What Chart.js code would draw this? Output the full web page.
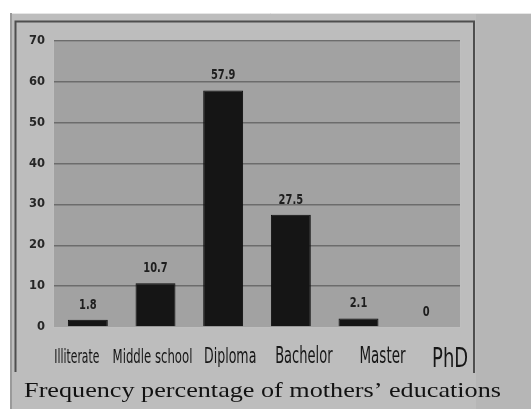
<!DOCTYPE html>
<html>
<head>
<meta charset="utf-8">
<script src="https://cdn.jsdelivr.net/npm/chart.js@4/dist/chart.umd.min.js"></script>
<style>
  html, body { margin: 0; padding: 0; background: #ffffff; }
  #wrap { width: 531px; height: 409px; }
</style>
</head>
<body>
<div id="wrap"><canvas id="c" width="531" height="409"></canvas></div>
<script>
// Education level of mothers and their frequency percentage
const categories = ['Illiterate', 'Middle school', 'Diploma', 'Bachelor', 'Master', 'PhD'];
const percentages = [1.8, 10.7, 57.9, 27.5, 2.1, 0];
const yTicks = [0, 10, 20, 30, 40, 50, 60, 70];
const titleText = 'Frequency percentage of mothers\u2019 educations';

const condensed = "'DejaVu Sans', sans-serif";

// Draw text with independent horizontal / vertical scaling around (x, y)
function scaledText(ctx, text, x, y, font, sx, sy) {
  ctx.save();
  ctx.font = font;
  ctx.translate(x, y);
  ctx.scale(sx, sy);
  ctx.fillText(text, 0, 0);
  ctx.restore();
}

// Grey panel, framed chart box and darker plot background
const backdrop = {
  id: 'backdrop',
  beforeDraw(chart) {
    const { ctx, chartArea: a } = chart;
    ctx.save();
    ctx.fillStyle = '#ffffff';
    ctx.fillRect(0, 0, chart.width, chart.height);
    ctx.fillStyle = '#bdbdbd';
    ctx.fillRect(10, 13, chart.width - 10, chart.height - 13);
    ctx.fillStyle = '#b6b6b6';
    ctx.fillRect(476, 13, chart.width - 476, chart.height - 13);
    ctx.strokeStyle = '#e6e6e6';
    ctx.lineWidth = 1;
    ctx.beginPath();
    ctx.moveTo(10, 13.5);
    ctx.lineTo(chart.width, 13.5);
    ctx.stroke();
    ctx.strokeStyle = '#9a9a9a';
    ctx.lineWidth = 2;
    ctx.beginPath();
    ctx.moveTo(11, 13);
    ctx.lineTo(11, chart.height);
    ctx.stroke();
    ctx.strokeStyle = '#4e4e4e';
    ctx.lineWidth = 2;
    ctx.beginPath();
    ctx.moveTo(15.5, 372);
    ctx.lineTo(15.5, 21.5);
    ctx.lineTo(474, 21.5);
    ctx.lineTo(474, 373);
    ctx.stroke();
    ctx.fillStyle = '#a2a2a2';
    ctx.fillRect(a.left, a.top, a.right - a.left, a.bottom - a.top);
    ctx.strokeStyle = '#bfbfbf';
    ctx.lineWidth = 1;
    ctx.strokeRect(a.left - 0.5, a.top, a.right - a.left + 1, a.bottom - a.top + 0.5);
    ctx.restore();
  }
};

// Values above the bars, category names under the axis, and the caption
const annotations = {
  id: 'annotations',
  afterDatasetsDraw(chart, args, opts) {
    const { ctx } = chart;
    const meta = chart.getDatasetMeta(0);
    const xs = chart.scales.x;
    ctx.save();
    ctx.fillStyle = '#1e1e1e';
    ctx.textAlign = 'center';
    ctx.textBaseline = 'alphabetic';
    meta.data.forEach((bar, i) => {
      scaledText(ctx, String(percentages[i]), bar.x, bar.y - 11,
        'condensed bold 11px ' + condensed, 1, 1.25);
    });
    ctx.fillStyle = '#161616';
    categories.forEach((name, i) => {
      const big = i === categories.length - 1;
      const x = xs.getPixelForTick(i) + opts.labelShift[i];
      scaledText(ctx, name, x, chart.chartArea.bottom + (big ? 40 : 36),
        'condensed ' + opts.labelSize[i] + 'px ' + condensed, 1, big ? 1.35 : 1.55);
    });
    ctx.fillStyle = '#121212';
    scaledText(ctx, titleText, 262.5, 397,
      "22px 'Liberation Serif', 'DejaVu Serif', serif", 1.19, 1);
    ctx.restore();
  }
};

new Chart(document.getElementById('c'), {
  type: 'bar',
  data: {
    labels: categories,
    datasets: [{
      data: percentages,
      backgroundColor: '#151515',
      borderColor: '#0c0c0c',
      borderWidth: 1,
      categoryPercentage: 1,
      barPercentage: 0.59
    }]
  },
  options: {
    responsive: false,
    animation: false,
    devicePixelRatio: 1,
    layout: { padding: { left: 24, right: 71, top: 41, bottom: 0 } },
    plugins: {
      legend: { display: false },
      tooltip: { enabled: false },
      title: { display: false },
      annotations: {
        labelShift: [-11, -3, 7, 13, 24, 24],
        labelSize: [12, 13, 14, 14.5, 15, 20]
      }
    },
    scales: {
      x: {
        grid: { display: false },
        border: { display: false },
        ticks: { display: false },
        afterFit(s) { s.height = 82; }
      },
      y: {
        min: 0,
        max: 70,
        afterBuildTicks(s) { s.ticks = yTicks.map(v => ({ value: v })); },
        grid: {
          color: (c) => c.index === 0 ? 'rgba(0,0,0,0)' : '#6c6c6c',
          lineWidth: 1.5,
          drawTicks: false
        },
        border: { display: false },
        ticks: {
          color: '#262626',
          padding: 9,
          font: { family: condensed, size: 11.5, weight: 'bold', style: 'condensed' }
        },
        afterFit(s) { s.width = 30; }
      }
    }
  },
  plugins: [backdrop, annotations]
});
</script>
</body>
</html>
